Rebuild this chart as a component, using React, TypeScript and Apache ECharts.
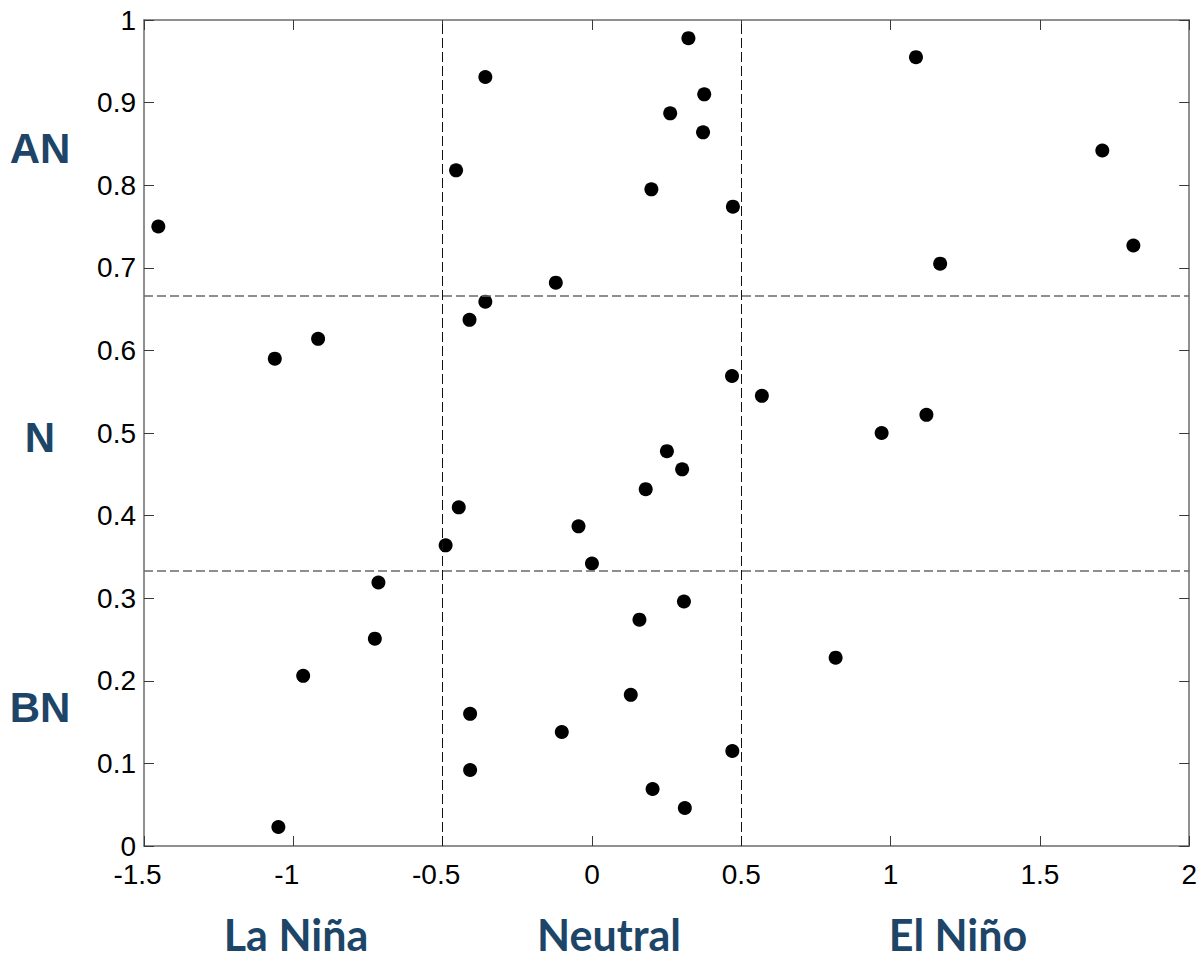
import React, { useEffect, useRef } from "react";
import * as echarts from "echarts";

// ENSO index (x) and tercile probability (y) for each year
const ensoIndex = [
  -1.452, -1.062, -0.917, -0.967, -1.05, -0.715, -0.727, -0.49, -0.455, -0.446,
  -0.41, -0.408, -0.408, -0.357, -0.357, -0.121, -0.101, -0.045, 0.0, 0.13,
  0.159, 0.18, 0.199, 0.203, 0.251, 0.262, 0.302, 0.308, 0.311, 0.323,
  0.372, 0.376, 0.469, 0.47, 0.472, 0.569, 0.816, 0.97, 1.085, 1.12,
  1.166, 1.709, 1.813,
];
const probability = [
  0.75, 0.59, 0.614, 0.206, 0.023, 0.319, 0.251, 0.364, 0.818, 0.41,
  0.637, 0.16, 0.092, 0.931, 0.659, 0.682, 0.138, 0.387, 0.342, 0.183,
  0.274, 0.432, 0.795, 0.069, 0.478, 0.887, 0.456, 0.296, 0.046, 0.978,
  0.864, 0.91, 0.569, 0.115, 0.774, 0.545, 0.228, 0.5, 0.955, 0.522,
  0.705, 0.842, 0.727,
];
const phaseThresholds = [-0.5, 0.5];
const tercileBounds = [1 / 3, 2 / 3];
const phaseLabels = ["La Niña", "Neutral", "El Niño"];
const tercileLabels = ["AN", "N", "BN"];

const TICK_FONT = "Liberation Sans, Arial, sans-serif";
const TICK_SIZE = 28;
const LABEL_BLUE = "#1d4567";

export default function App() {
  const ref = useRef<HTMLDivElement>(null);

  useEffect(() => {
    if (!ref.current) return;
    const chart = echarts.init(ref.current, null, { renderer: "svg" });

    const axisLine = { show: true, onZero: false, lineStyle: { color: "#6b6b6b", width: 1.5 } };
    const axisTick = { show: true, inside: true, length: 10, lineStyle: { color: "#3a3a3a", width: 1 } };
    const fmtNum = (v: number) => String(Math.round(v * 10) / 10);

    const phaseX = [296, 609, 958];
    const tercileY = [148, 437, 707];

    const option: any = {
      animation: false,
      backgroundColor: "#ffffff",
      grid: { left: 144, right: 9, top: 20, bottom: 112, containLabel: false },
      xAxis: [
        {
          type: "value",
          min: -1.5,
          max: 2,
          interval: 0.5,
          position: "bottom",
          axisLine,
          axisTick,
          splitLine: { show: false },
          axisLabel: {
            margin: 17,
            fontSize: TICK_SIZE,
            lineHeight: 22,
            fontFamily: TICK_FONT,
            color: "#000",
            formatter: (v: number) => (v < 0 ? `{n|${fmtNum(v)}}` : fmtNum(v)),
            rich: {
              n: {
                padding: [0, 13, 0, 0],
                fontSize: TICK_SIZE,
                lineHeight: 22,
                fontFamily: TICK_FONT,
                color: "#000",
              },
            },
          },
        },
        {
          type: "value",
          min: -1.5,
          max: 2,
          interval: 0.5,
          position: "top",
          axisLine,
          axisTick,
          splitLine: { show: false },
          axisLabel: { show: false },
        },
      ],
      yAxis: [
        {
          type: "value",
          min: 0,
          max: 1,
          interval: 0.1,
          position: "left",
          axisLine,
          axisTick,
          splitLine: { show: false },
          axisLabel: {
            margin: 8,
            fontSize: TICK_SIZE,
            lineHeight: 22,
            fontFamily: TICK_FONT,
            color: "#000",
            formatter: (v: number) => fmtNum(v),
          },
        },
        {
          type: "value",
          min: 0,
          max: 1,
          interval: 0.1,
          position: "right",
          axisLine,
          axisTick,
          splitLine: { show: false },
          axisLabel: { show: false },
        },
      ],
      series: [
        {
          type: "scatter",
          xAxisIndex: 0,
          yAxisIndex: 0,
          symbol: "circle",
          symbolSize: 14,
          itemStyle: { color: "#000", opacity: 1 },
          data: ensoIndex.map((x, i) => [x, probability[i]]),
          markLine: {
            silent: true,
            precision: 6,
            symbol: ["none", "none"],
            label: { show: false },
            animation: false,
            data: [
              ...phaseThresholds.map((v) => ({
                xAxis: v,
                lineStyle: { color: "#111", width: 1, type: [10, 4] },
              })),
              ...tercileBounds.map((v) => ({
                yAxis: v,
                lineStyle: { color: "#6a6a6a", width: 1.5, type: [9, 4] },
              })),
            ],
          },
        },
      ],
      graphic: [
        ...tercileLabels.map((t, i) => ({
          type: "text",
          x: 40,
          y: tercileY[i],
          style: {
            text: t,
            font: "bold 42px 'Liberation Sans', Arial, sans-serif",
            fill: LABEL_BLUE,
            align: "center",
            verticalAlign: "middle",
            textAlign: "center",
            textVerticalAlign: "middle",
          },
        })),
        ...phaseLabels.map((t, i) => ({
          type: "text",
          x: phaseX[i],
          y: 934,
          style: {
            text: t,
            font: "bold 43px Lato, 'Open Sans', sans-serif",
            fill: LABEL_BLUE,
            align: "center",
            verticalAlign: "middle",
            textAlign: "center",
            textVerticalAlign: "middle",
          },
        })),
      ],
    };

    chart.setOption(option);
    return () => chart.dispose();
  }, []);

  return (
    <div
      ref={ref}
      style={{ position: "absolute", left: 0, top: 0, width: 1200, height: 958, background: "#fff" }}
    />
  );
}
